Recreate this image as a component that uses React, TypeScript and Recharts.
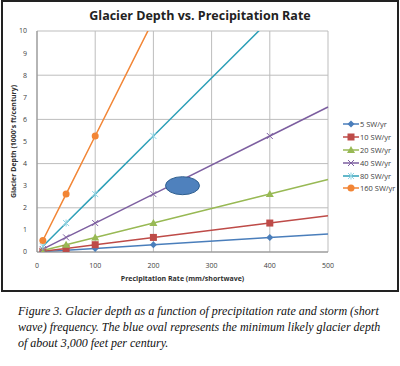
import React from 'react';
import {
  LineChart,
  Line,
  XAxis,
  YAxis,
  CartesianGrid,
  ReferenceDot,
} from 'recharts';

const rates = [10, 50, 100, 200, 400, 500];
const sw5 = [0.016, 0.08, 0.16, 0.33, 0.66, 0.82];
const sw10 = [0.033, 0.16, 0.33, 0.66, 1.31, 1.64];
const sw20 = [0.066, 0.33, 0.66, 1.31, 2.62, 3.28];
const sw40 = [0.13, 0.66, 1.31, 2.62, 5.25, 6.56];
const sw80 = [0.26, 1.31, 2.62, 5.25, 10.5, 13.1];
const sw160 = [0.52, 2.62, 5.25, 10.5, 21, 26.2];
const xTicks = [0, 100, 200, 300, 400, 500];
const yTicks = [0, 1, 2, 3, 4, 5, 6, 7, 8, 9, 10];
const ovalPoint = { x: 250, y: 3 };

const data = rates.map((r, i) => ({
  rate: r,
  s5: sw5[i],
  s10: sw10[i],
  s20: sw20[i],
  s40: sw40[i],
  s80: sw80[i],
  s160: sw160[i],
}));

const series = [
  { key: 's5', name: '5 SW/yr', color: '#4a7ebb', marker: 'diamond' },
  { key: 's10', name: '10 SW/yr', color: '#be4b48', marker: 'square' },
  { key: 's20', name: '20 SW/yr', color: '#98b954', marker: 'triangle' },
  { key: 's40', name: '40 SW/yr', color: '#7d5fa0', marker: 'x' },
  { key: 's80', name: '80 SW/yr', color: '#2fa0b8', marker: 'star' },
  { key: 's160', name: '160 SW/yr', color: '#f28535', marker: 'circle' },
];

function Marker({ cx, cy, color, type }: { cx: number; cy: number; color: string; type: string }) {
  switch (type) {
    case 'diamond':
      return <path d={`M${cx},${cy - 3.5}L${cx + 3.5},${cy}L${cx},${cy + 3.5}L${cx - 3.5},${cy}Z`} fill={color} />;
    case 'square':
      return <rect x={cx - 3.5} y={cy - 3.5} width={7} height={7} fill={color} />;
    case 'triangle':
      return <path d={`M${cx},${cy - 4}L${cx + 4},${cy + 3}L${cx - 4},${cy + 3}Z`} fill={color} />;
    case 'x':
      return (
        <path d={`M${cx - 3},${cy - 3}L${cx + 3},${cy + 3}M${cx - 3},${cy + 3}L${cx + 3},${cy - 3}`} stroke={color} strokeWidth={1} />
      );
    case 'star':
      return (
        <path
          d={`M${cx - 3},${cy - 3}L${cx + 3},${cy + 3}M${cx - 3},${cy + 3}L${cx + 3},${cy - 3}M${cx},${cy - 3.5}L${cx},${cy + 3.5}`}
          stroke="#8fd3e3"
          strokeWidth={1}
        />
      );
    default:
      return <circle cx={cx} cy={cy} r={3.5} fill={color} />;
  }
}

const makeDot = (color: string, type: string) => (props: any) => {
  const { cx, cy, payload, index } = props;
  if (payload.rate === 500 || cx == null || cy == null) return <g key={index} />;
  return (
    <g key={index}>
      <Marker cx={cx} cy={cy} color={color} type={type} />
    </g>
  );
};

const Oval = (props: any) => (
  <ellipse cx={props.cx} cy={props.cy} rx={17} ry={9} fill="#4f81bd" stroke="#2f5f8f" strokeWidth={1} />
);

export default function App() {
  return (
    <div style={{ position: 'absolute', left: 0, top: 0, width: 400, height: 366, background: '#fff' }}>
      <div
        style={{
          position: 'absolute',
          left: 1,
          top: 0,
          width: 394,
          height: 288,
          border: '2px solid #222',
        }}
      />
      <div
        style={{
          position: 'absolute',
          top: 7,
          left: 0,
          width: 400,
          textAlign: 'center',
          fontFamily: 'Open Sans, sans-serif',
          fontWeight: 700,
          fontSize: 12.5,
          color: '#222',
        }}
      >
        Glacier Depth vs. Precipitation Rate
      </div>
      <div style={{ position: 'absolute', left: 0, top: 0 }}>
        <LineChart
          width={400}
          height={292}
          data={data}
          margin={{ top: 31, right: 72, bottom: 0, left: 0 }}
        >
          <CartesianGrid stroke="#bdbdbd" strokeWidth={1} />
          <XAxis
            dataKey="rate"
            type="number"
            domain={[0, 500]}
            ticks={xTicks}
            height={40}
            stroke="#8c8c8c"
            tickLine={false}
            tick={{ fontSize: 7, fill: '#404040', fontFamily: 'Open Sans, sans-serif' }}
            tickMargin={5}
            label={{
              value: 'Precipitation Rate (mm/shortwave)',
              position: 'insideBottom',
              offset: 11,
              style: { fontSize: 7, fontWeight: 700, fill: '#303030', fontFamily: 'Open Sans, sans-serif' },
            }}
          />
          <YAxis
            type="number"
            domain={[0, 10]}
            ticks={yTicks}
            allowDataOverflow
            width={37}
            stroke="#8c8c8c"
            tickLine={false}
            tick={{ fontSize: 7, fill: '#404040', fontFamily: 'Open Sans, sans-serif' }}
            tickMargin={4}
            label={{
              value: "Glacier Depth (1000's ft/century)",
              angle: -90,
              position: 'insideLeft',
              offset: 14,
              style: { textAnchor: 'middle', fontSize: 7, fontWeight: 700, fill: '#303030', fontFamily: 'Open Sans, sans-serif' },
            }}
          />
          {series.map((s) => (
            <Line
              key={s.key}
              dataKey={s.key}
              name={s.name}
              type="linear"
              stroke={s.color}
              strokeWidth={1.5}
              dot={makeDot(s.color, s.marker)}
              activeDot={false}
              isAnimationActive={false}
            />
          ))}
          <ReferenceDot x={ovalPoint.x} y={ovalPoint.y} shape={Oval} />
        </LineChart>
      </div>
      <div
        style={{
          position: 'absolute',
          left: 343,
          top: 118,
          fontFamily: 'Open Sans, sans-serif',
          fontSize: 7.5,
          color: '#404040',
        }}
      >
        {series.map((s) => (
          <div key={s.key} style={{ display: 'flex', alignItems: 'center', height: 12.8 }}>
            <svg width={16} height={10}>
              <line x1={0} y1={5} x2={16} y2={5} stroke={s.color} strokeWidth={1.5} />
              <Marker cx={8} cy={5} color={s.color} type={s.marker} />
            </svg>
            <span style={{ marginLeft: 1 }}>{s.name}</span>
          </div>
        ))}
      </div>
      <div
        style={{
          position: 'absolute',
          left: 18,
          top: 303,
          width: 380,
          fontFamily: 'Liberation Serif, serif',
          fontStyle: 'italic',
          fontSize: 12,
          lineHeight: '16px',
          color: '#111',
          whiteSpace: 'nowrap',
        }}
      >
        Figure 3. Glacier depth as a function of precipitation rate and storm (short
        <br />
        wave) frequency. The blue oval represents the minimum likely glacier depth
        <br />
        of about 3,000 feet per century.
      </div>
    </div>
  );
}
